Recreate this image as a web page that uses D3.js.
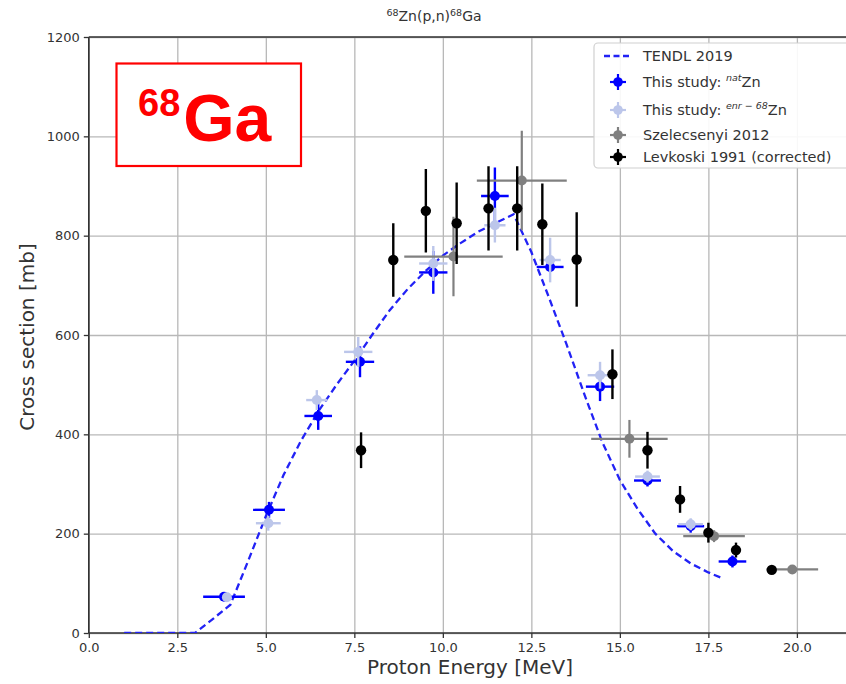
<!DOCTYPE html>
<html>
<head>
<meta charset="utf-8">
<script src="https://cdn.jsdelivr.net/npm/d3@7"></script>
<style>
  html, body { margin: 0; padding: 0; background: #fff; }
  svg { display: block; }
  text { font-family: "DejaVu Sans", sans-serif; }
</style>
</head>
<body>
<svg id="chart" width="846" height="684"></svg>
<script>
// ---------- data ----------
const tendlE  = [1, 1.5, 2, 2.5, 3, 3.5, 4, 4.5, 5, 5.5, 6, 6.5, 7, 7.5, 8, 8.5, 9, 9.5, 10, 10.5, 11, 11.5, 12, 12.5, 13, 13.5, 14, 14.5, 15, 15.5, 16, 16.5, 17, 17.5, 17.9];
const tendlXS = [0, 0, 0, 0, 0, 28, 57, 145, 235, 318, 388, 448, 500, 548, 600, 650, 692, 728, 760, 785, 808, 826, 843, 767, 675, 580, 480, 385, 308, 250, 200, 165, 140, 122, 110];

const natE   = [3.82, 5.09, 6.48, 7.66, 9.73, 11.47, 13.03, 14.44, 15.78, 17.0, 18.18];
const natXS  = [73, 248, 437, 546, 726, 880, 737, 496, 307, 215, 144];
const natDE  = [0.59, 0.45, 0.39, 0.4, 0.4, 0.39, 0.38, 0.4, 0.38, 0.38, 0.39];
const natDXS = [5, 16, 28, 31, 43, 57, 10, 29, 12, 13, 12];

const enrE   = [3.9, 5.07, 6.44, 7.61, 9.73, 11.47, 13.03, 14.44, 15.78, 17.0];
const enrXS  = [72, 221, 469, 566, 744, 821, 751, 519, 315, 219];
const enrDE  = [0.1, 0.35, 0.3, 0.4, 0.4, 0.3, 0.3, 0.35, 0.35, 0.35];
const enrDXS = [5, 15, 20, 30, 35, 35, 45, 27, 12, 12];

const szelE   = [10.3, 12.23, 15.27, 17.66, 19.87];
const szelXS  = [758, 911, 391, 195, 128];
const szelDE  = [1.39, 1.27, 1.08, 0.87, 0.73];
const szelDXS = [80, 100, 38, 12, 8];

const levE   = [7.69, 8.6, 9.52, 10.39, 11.29, 12.1, 12.81, 13.78, 14.79, 15.78, 16.7, 17.5, 18.28, 19.29];
const levXS  = [368, 751, 850, 825, 855, 855, 823, 752, 521, 368, 269, 202, 167, 127];
const levDXS = [36, 74, 84, 82, 85, 85, 82, 95, 50, 37, 27, 20, 15, 8];

const xTicks = [0, 2.5, 5, 7.5, 10, 12.5, 15, 17.5, 20];
const yTicks = [0, 200, 400, 600, 800, 1000, 1200];

const titleText  = ["68", "Zn(p,n)", "68", "Ga"];
const xLabelText = "Proton Energy [MeV]";
const yLabelText = "Cross section [mb]";
const legendLabels = ["TENDL 2019", "This study: ", "This study: ", "Szelecsenyi 2012", "Levkoski 1991 (corrected)"];

// ---------- layout ----------
const svg = d3.select("#chart");
const pLeft = 88.8, pTop = 37, pBottom = 633, pRight = 850;
const x = d3.scaleLinear().domain([0, 21.5]).range([pLeft, pRight]);
const y = d3.scaleLinear().domain([0, 1200]).range([pBottom, pTop]);

const colNat = "#0000ff", colEnr = "#bcc6ea", colSzel = "#808080", colLev = "#000000", colTendl = "#2222f5";

svg.append("defs").append("clipPath").attr("id", "plotclip")
  .append("rect").attr("x", pLeft).attr("y", pTop).attr("width", pRight - pLeft).attr("height", pBottom - pTop);

// grid
const gx = svg.append("g")
  .attr("transform", `translate(0,${pBottom})`)
  .call(d3.axisBottom(x).tickValues(xTicks).tickSize(-(pBottom - pTop)).tickFormat(""));
gx.selectAll("line").attr("stroke", "#b8b8b8").attr("stroke-width", 1.3);
gx.select(".domain").remove();
const gy = svg.append("g")
  .attr("transform", `translate(${pLeft},0)`)
  .call(d3.axisLeft(y).tickValues(yTicks).tickSize(-(pRight - pLeft)).tickFormat(""));
gy.selectAll("line").attr("stroke", "#b8b8b8").attr("stroke-width", 1.3);
gy.select(".domain").remove();

// axes with ticks and labels
const ax = svg.append("g")
  .attr("transform", `translate(0,${pBottom})`)
  .call(d3.axisBottom(x).tickValues(xTicks).tickSize(5).tickPadding(5).tickFormat(d3.format(".1f")));
ax.select(".domain").remove();
ax.selectAll("line").attr("stroke", "#333").attr("stroke-width", 1.3);
ax.selectAll("text").attr("fill", "#333").style("font-size", "13px").style("font-family", "DejaVu Sans");

const ay = svg.append("g")
  .attr("transform", `translate(${pLeft},0)`)
  .call(d3.axisLeft(y).tickValues(yTicks).tickSize(5).tickPadding(4).tickFormat(d3.format("d")));
ay.select(".domain").remove();
ay.selectAll("line").attr("stroke", "#333").attr("stroke-width", 1.3);
ay.selectAll("text").attr("fill", "#333").style("font-size", "13px").style("font-family", "DejaVu Sans");

// spines
svg.append("line").attr("x1", pLeft).attr("x2", pLeft).attr("y1", pTop).attr("y2", pBottom).attr("stroke", "#333").attr("stroke-width", 1.6);
svg.append("line").attr("x1", pLeft).attr("x2", pRight).attr("y1", pBottom).attr("y2", pBottom).attr("stroke", "#333").attr("stroke-width", 1.6);
svg.append("line").attr("x1", pLeft).attr("x2", pRight).attr("y1", pTop).attr("y2", pTop).attr("stroke", "#333").attr("stroke-width", 1.6);

// plot layer
const plot = svg.append("g").attr("clip-path", "url(#plotclip)");

// TENDL line
const tendl = tendlE.map((e, i) => [e, tendlXS[i]]);
plot.append("path").datum(tendl)
  .attr("d", d3.line().x(d => x(d[0])).y(d => y(d[1])))
  .attr("fill", "none").attr("stroke", colTendl).attr("stroke-width", 2.3).attr("stroke-dasharray", "7,4");

function errSeries(E, XS, DE, DXS, color, lw, r) {
  const g = plot.append("g");
  E.forEach((e, i) => {
    if (DE) {
      g.append("line").attr("x1", x(e - DE[i])).attr("x2", x(e + DE[i])).attr("y1", y(XS[i])).attr("y2", y(XS[i]))
        .attr("stroke", color).attr("stroke-width", lw);
    }
    if (DXS) {
      g.append("line").attr("x1", x(e)).attr("x2", x(e)).attr("y1", y(XS[i] - DXS[i])).attr("y2", y(XS[i] + DXS[i]))
        .attr("stroke", color).attr("stroke-width", lw);
    }
  });
  g.selectAll("circle").data(E).join("circle")
    .attr("cx", d => x(d)).attr("cy", (d, i) => y(XS[i])).attr("r", r).attr("fill", color);
}

errSeries(natE, natXS, natDE, natDXS, colNat, 2.4, 5);
errSeries(enrE, enrXS, enrDE, enrDXS, colEnr, 2.4, 5);
errSeries(szelE, szelXS, szelDE, szelDXS, colSzel, 2.2, 5);
errSeries(levE, levXS, null, levDXS, colLev, 2.4, 5.2);

// title
const title = svg.append("text").attr("x", 434).attr("y", 21).attr("text-anchor", "middle")
  .attr("fill", "#333").style("font-size", "14px");
title.append("tspan").text(titleText[0]).style("font-size", "9.5px").attr("dy", -5);
title.append("tspan").text(titleText[1]).attr("dy", 5);
title.append("tspan").text(titleText[2]).style("font-size", "9.5px").attr("dy", -5);
title.append("tspan").text(titleText[3]).attr("dy", 5);

// axis labels
svg.append("text").attr("x", 470).attr("y", 674).attr("text-anchor", "middle")
  .attr("fill", "#333").style("font-size", "20px").text(xLabelText);
svg.append("text").attr("transform", "translate(34,337) rotate(-90)").attr("text-anchor", "middle")
  .attr("fill", "#333").style("font-size", "20px").text(yLabelText);

// legend
const lg = svg.append("g");
lg.append("rect").attr("x", 594).attr("y", 43).attr("width", 262).attr("height", 125).attr("rx", 4)
  .attr("fill", "#fff").attr("fill-opacity", 0.9).attr("stroke", "#d0d0d0").attr("stroke-width", 1.2);
const legY = [56, 82, 110, 135, 157];
const hx = 618;
lg.append("line").attr("x1", 604).attr("x2", 632).attr("y1", legY[0]).attr("y2", legY[0])
  .attr("stroke", colTendl).attr("stroke-width", 2.3).attr("stroke-dasharray", "6,3.5");
const legCols = [colNat, colEnr, colSzel, colLev];
legCols.forEach((c, i) => {
  const yy = legY[i + 1];
  lg.append("line").attr("x1", hx - 8).attr("x2", hx + 8).attr("y1", yy).attr("y2", yy).attr("stroke", c).attr("stroke-width", 2.2);
  lg.append("line").attr("x1", hx).attr("x2", hx).attr("y1", yy - 8).attr("y2", yy + 8).attr("stroke", c).attr("stroke-width", 2.2);
  lg.append("circle").attr("cx", hx).attr("cy", yy).attr("r", 4.8).attr("fill", c);
});
const lt = (i) => lg.append("text").attr("x", 643).attr("y", legY[i] + 5).attr("fill", "#333").style("font-size", "14.5px");
lt(0).text(legendLabels[0]);
const t1 = lt(1); t1.append("tspan").text(legendLabels[1]);
t1.append("tspan").text("nat").style("font-size", "9.5px").style("font-style", "italic").attr("dy", -6);
t1.append("tspan").text("Zn").attr("dy", 6);
const t2 = lt(2); t2.append("tspan").text(legendLabels[2]);
t2.append("tspan").text("enr − 68").style("font-size", "9.5px").style("font-style", "italic").attr("dy", -6);
t2.append("tspan").text("Zn").attr("dy", 6);
lt(3).text(legendLabels[3]);
lt(4).text(legendLabels[4]);

// red annotation box
const rb = svg.append("g");
rb.append("rect").attr("x", 116.5).attr("y", 63.5).attr("width", 184.5).attr("height", 102.5)
  .attr("fill", "#fff").attr("stroke", "#ff0000").attr("stroke-width", 2.2);
const rt = rb.append("text").attr("x", 138).attr("y", 140.5).attr("fill", "#ff0000")
  .style("font-family", "'Liberation Sans', Arial, sans-serif").style("font-weight", "bold");
rt.append("tspan").text("68").style("font-size", "38px").attr("dy", -25);
rt.append("tspan").text("Ga").style("font-size", "66px").attr("dy", 25).attr("dx", 3);
</script>
</body>
</html>
